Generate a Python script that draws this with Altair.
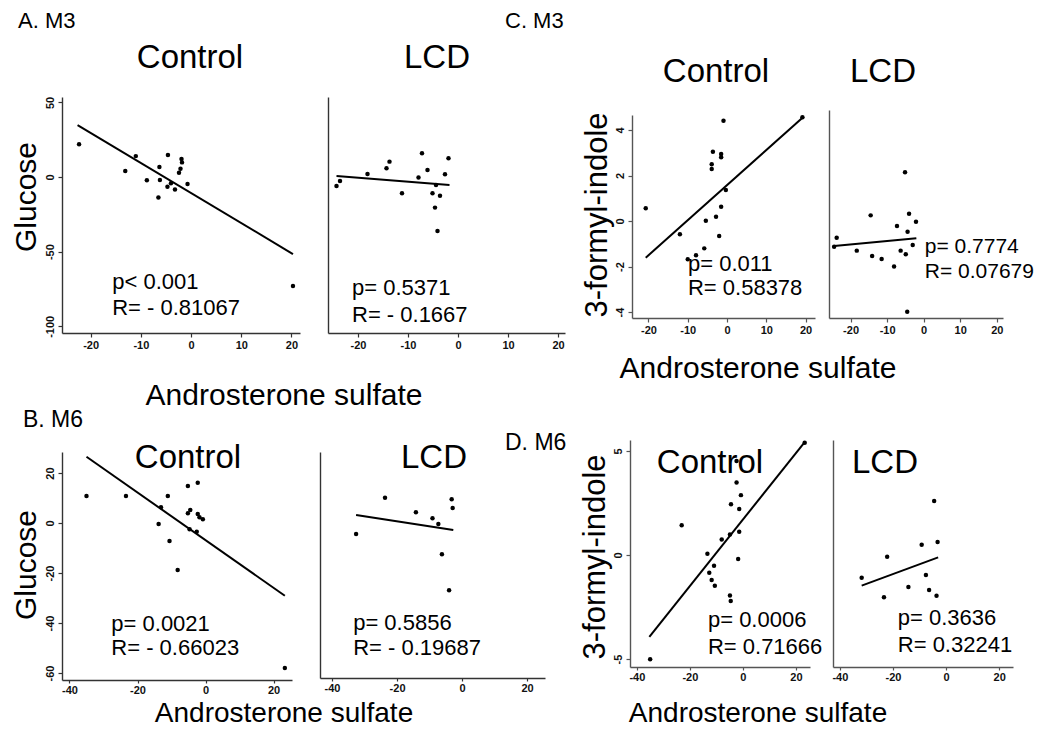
import altair as alt
import pandas as pd

FONT = "Liberation Sans"
OFF = 8            # page margin
W, H = 1034, 720   # whole drawing area

# ---------------- data ----------------
a_ctrl_x = [-22.3, -13.1, -11.0, -8.8, -6.5, -6.3, -6.2, -4.6, -4.7, -4.0, -3.2, -1.9, -1.8, -2.1, -2.4, -0.7, 20.3]
a_ctrl_y = [21.9, 4.0, 14.0, -2.2, -13.8, 6.7, -2.0, 14.7, -6.5, -4.2, -8.3, 12.1, 9.8, 5.6, 2.9, -4.7, -73.0]
a_ctrl_fit_x = [-22.6, 20.3]
a_ctrl_fit_y = [34.8, -51.6]

a_lcd_x = [-24.3, -23.6, -18.1, -14.3, -13.7, -11.2, -7.9, -7.2, -6.1, -5.1, -4.6, -4.1, -3.6, -4.4, -2.6, -1.9]
a_lcd_y = [-6.0, -2.7, 2.0, 5.8, 10.3, -10.9, -0.4, 15.9, 4.7, -10.9, -20.5, -36.2, -12.5, -5.4, 1.8, 12.5]
a_lcd_fit_x = [-24.3, -1.7]
a_lcd_fit_y = [0.7, -5.4]

b_ctrl_x = [-35.0, -23.4, -13.8, -13.1, -11.1, -10.6, -8.2, -5.2, -5.2, -4.5, -4.7, -2.3, -2.3, -1.8, -0.8, -2.6, 23.3]
b_ctrl_y = [10.8, 10.8, -0.4, 6.3, 10.8, -7.2, -18.8, 14.8, 3.9, 5.2, -2.5, 16.1, 3.6, 2.3, 1.5, -3.5, -58.0]
b_ctrl_fit_x = [-35.0, 23.3]
b_ctrl_fit_y = [26.5, -29.1]

b_lcd_x = [-32.6, -23.7, -14.2, -9.1, -7.3, -6.2, -4.0, -3.2, -2.9]
b_lcd_y = [-4.4, 10.1, 4.3, 1.9, -0.4, -12.5, -26.9, 9.5, 6.0]
b_lcd_fit_x = [-32.6, -2.7]
b_lcd_fit_y = [3.2, -2.8]

c_ctrl_x = [-20.7, -12.0, -10.0, -7.9, -5.8, -5.4, -3.9, -3.9, -3.6, -2.8, -2.0, -1.5, -1.5, -1.5, -0.9, -0.3, 19.2]
c_ctrl_y = [0.56, -0.58, -1.68, -1.5, -1.2, 0.01, 2.5, 2.29, 3.05, 0.19, -0.66, 0.63, 2.95, 2.8, 4.41, 1.36, 4.56]
c_ctrl_fit_x = [-20.7, 19.5]
c_ctrl_fit_y = [-1.61, 4.58]

c_lcd_x = [-23.8, -24.5, -18.3, -14.5, -14.1, -11.5, -8.1, -7.3, -6.3, -5.1, -4.9, -4.4, -4.0, -4.5, -3.0, -2.1]
c_lcd_y = [-0.73, -1.13, -1.3, 0.25, -1.54, -1.67, -2.0, -0.22, -1.3, 2.14, -1.46, -0.47, 0.32, -3.99, -1.05, -0.03]
c_lcd_fit_x = [-24.5, -2.0]
c_lcd_fit_y = [-1.1, -0.76]

d_ctrl_x = [-35.0, -23.1, -13.4, -12.7, -11.8, -10.9, -10.6, -8.0, -4.9, -4.6, -4.9, -4.5, -2.4, -2.4, -1.8, -1.4, -1.4, -0.75, 23.3]
d_ctrl_y = [-5.01, 1.43, 0.06, -0.85, -1.2, -0.51, -1.47, 0.75, -1.94, -2.21, 0.99, 2.44, 4.52, 3.49, -0.19, 1.12, 2.21, 2.88, 5.4]
d_ctrl_fit_x = [-35.3, 23.3]
d_ctrl_fit_y = [-3.93, 5.43]

d_lcd_x = [-31.8, -23.4, -22.2, -14.2, -9.2, -7.6, -6.4, -4.5, -3.6, -3.2]
d_lcd_y = [-1.09, -2.03, -0.08, -1.54, 0.5, -0.96, -1.68, 2.6, -1.96, 0.63]
d_lcd_fit_x = [-31.8, -3.0]
d_lcd_fit_y = [-1.47, -0.11]

stats_a_ctrl = ["p< 0.001", "R= - 0.81067"]
stats_a_lcd = ["p= 0.5371", "R= - 0.1667"]
stats_b_ctrl = ["p= 0.0021", "R= - 0.66023"]
stats_b_lcd = ["p= 0.5856", "R= - 0.19687"]
stats_c_ctrl = ["p= 0.011", "R= 0.58378"]
stats_c_lcd = ["p= 0.7774", "R= 0.07679"]
stats_d_ctrl = ["p= 0.0006", "R= 0.71666"]
stats_d_lcd = ["p= 0.3636", "R= 0.32241"]

panel_letters = ["A. M3", "B. M6", "C. M3", "D. M6"]
groups = ["Control", "LCD"]
y_titles = ["Glucose", "3-formyl-indole"]
x_title = "Androsterone sulfate"

ticks_x_ab = [[-20, -10, 0, 10, 20], [-40, -20, 0, 20]]
ticks_y_a = [50, 0, -50, -100]
ticks_y_b = [20, 0, -20, -40, -60]
ticks_y_c = [4, 2, 0, -2, -4]
ticks_y_d = [5, 0, -5]


def panel(px, py, fx, fy, stats, box, xdom, ydom, xticks, yticks, stat_pos, axis_color,
          stat_size=22, tick_len=4, pad=2):
    X0, X1, Y0, Y1 = [v - OFF for v in box]
    xs = alt.Scale(domain=xdom, range=[X0, X1], nice=False, zero=False)
    ys = alt.Scale(domain=ydom, range=[Y1, Y0], nice=False, zero=False)
    common = dict(title=None, grid=False, domainColor=axis_color, domainWidth=1.4,
                  tickColor=axis_color, tickWidth=1.2, labelColor="#111",
                  labelFont=FONT, labelFontSize=11, labelFontWeight="bold",
                  labelExpr="toString(datum.value)")
    xa = alt.Axis(orient="bottom", offset=-(H - Y1), values=xticks, labelPadding=pad,
                  tickSize=tick_len, **common)
    if yticks:
        ya = alt.Axis(orient="left", offset=-X0, values=yticks, labelAngle=270,
                      labelAlign="center", labelBaseline="bottom", labelPadding=3,
                      tickSize=4, **common)
    else:
        ya = alt.Axis(orient="left", offset=-X0, labels=False, ticks=False, title=None,
                      grid=False, domainColor=axis_color, domainWidth=1.4)
    xe = alt.X("x:Q", scale=xs, axis=xa)
    ye = alt.Y("y:Q", scale=ys, axis=ya)
    pts = alt.Chart(pd.DataFrame({"x": px, "y": py})).mark_circle(
        size=20, color="black", opacity=1).encode(x=xe, y=ye)
    fit = alt.Chart(pd.DataFrame({"x": fx, "y": fy})).mark_line(
        color="black", strokeWidth=2).encode(x=xe, y=ye)
    sx, sy1, sy2 = stat_pos
    txt = alt.Chart(pd.DataFrame({"x": [sx, sx], "y": [sy1, sy2], "t": stats})).mark_text(
        align="left", baseline="middle", font=FONT, fontSize=stat_size, color="black"
    ).encode(x=xe, y=ye, text="t:N")
    return alt.layer(pts, fit, txt)


def label(text, X, Y, size, angle=0, align="center", baseline="middle"):
    kw = dict(align=align, baseline=baseline, font=FONT, fontSize=size, color="black")
    if angle:
        kw["angle"] = angle
    return alt.Chart(pd.DataFrame({"t": [text]})).mark_text(**kw).encode(
        x=alt.value(X - OFF), y=alt.value(Y - OFF), text="t:N")


dark = "#333333"
grey = "#555555"

panels = [
    panel(a_ctrl_x, a_ctrl_y, a_ctrl_fit_x, a_ctrl_fit_y, stats_a_ctrl,
          (62, 300, 97, 333), [-25.7, 21.7], [-104.5, 53.6], ticks_x_ab[0], ticks_y_a,
          (-15.7, -70.3, -87.7), dark),
    panel(a_lcd_x, a_lcd_y, a_lcd_fit_x, a_lcd_fit_y, stats_a_lcd,
          (328, 565, 97, 333), [-26.0, 21.4], [-104.5, 53.6], ticks_x_ab[0], None,
          (-21.2, -74.3, -92.4), dark),
    panel(b_ctrl_x, b_ctrl_y, b_ctrl_fit_x, b_ctrl_fit_y, stats_b_ctrl,
          (62, 292, 452, 680), [-42.2, 25.4], [-62.8, 28.4], ticks_x_ab[1], ticks_y_b,
          (-27.7, -40.4, -50.0), dark, tick_len=3, pad=1),
    panel(b_lcd_x, b_lcd_y, b_lcd_fit_x, b_lcd_fit_y, stats_b_lcd,
          (320, 545, 452, 678), [-43.7, 25.5], [-62.0, 28.4], ticks_x_ab[1], None,
          (-33.5, -40.0, -50.0), dark, tick_len=3, pad=1),
    panel(c_ctrl_x, c_ctrl_y, c_ctrl_fit_x, c_ctrl_fit_y, stats_c_ctrl,
          (632, 815, 115, 318), [-24.2, 22.4], [-4.26, 4.66], ticks_x_ab[0], ticks_y_c,
          (-9.95, -1.89, -2.95), grey),
    panel(c_lcd_x, c_lcd_y, c_lcd_fit_x, c_lcd_fit_y, stats_c_lcd,
          (829, 1003, 110, 318), [-25.9, 21.7], [-4.26, 4.88], ticks_x_ab[0], None,
          (0.3, -1.14, -2.24), grey, 21),
    panel(d_ctrl_x, d_ctrl_y, d_ctrl_fit_x, d_ctrl_fit_y, stats_d_ctrl,
          (630, 810, 440, 667), [-42.6, 25.3], [-5.38, 5.53], ticks_x_ab[1], ticks_y_d,
          (-13.2, -3.13, -4.42), grey, tick_len=3, pad=1),
    panel(d_lcd_x, d_lcd_y, d_lcd_fit_x, d_lcd_fit_y, stats_d_lcd,
          (833, 1013, 440, 667), [-42.6, 25.2], [-5.38, 5.53], ticks_x_ab[1], None,
          (-18.2, -3.03, -4.33), grey, tick_len=3, pad=1),
]

labels = [
    label(panel_letters[0], 18, 28, 22, align="left", baseline="alphabetic"),
    label(panel_letters[1], 23, 427, 23, align="left", baseline="alphabetic"),
    label(panel_letters[2], 505, 28, 22, align="left", baseline="alphabetic"),
    label(panel_letters[3], 505, 450, 23, align="left", baseline="alphabetic"),
    label(groups[0], 190, 58, 33), label(groups[1], 437, 58, 33),
    label(groups[0], 188, 458, 33), label(groups[1], 434, 458, 33),
    label(groups[0], 716, 72, 33), label(groups[1], 883, 72, 33),
    label(groups[0], 710, 463, 33), label(groups[1], 885, 463, 33),
    label(y_titles[0], 36, 197, 30, angle=270, baseline="alphabetic"),
    label(y_titles[0], 36, 565, 30, angle=270, baseline="alphabetic"),
    label(y_titles[1], 607, 215, 31, angle=270, baseline="alphabetic"),
    label(y_titles[1], 605, 557, 31, angle=270, baseline="alphabetic"),
    label(x_title, 284, 405, 30, baseline="alphabetic"),
    label(x_title, 284, 722, 28, baseline="alphabetic"),
    label(x_title, 758, 378, 30, baseline="alphabetic"),
    label(x_title, 758, 722, 28, baseline="alphabetic"),
]

chart = alt.layer(*panels, *labels).resolve_scale(
    x="independent", y="independent"
).resolve_axis(x="independent", y="independent").properties(
    width=W, height=H, padding=0, autosize="none"
).configure_view(stroke=None)

chart.save("out.html", embed_options={"renderer": "svg", "actions": False})
